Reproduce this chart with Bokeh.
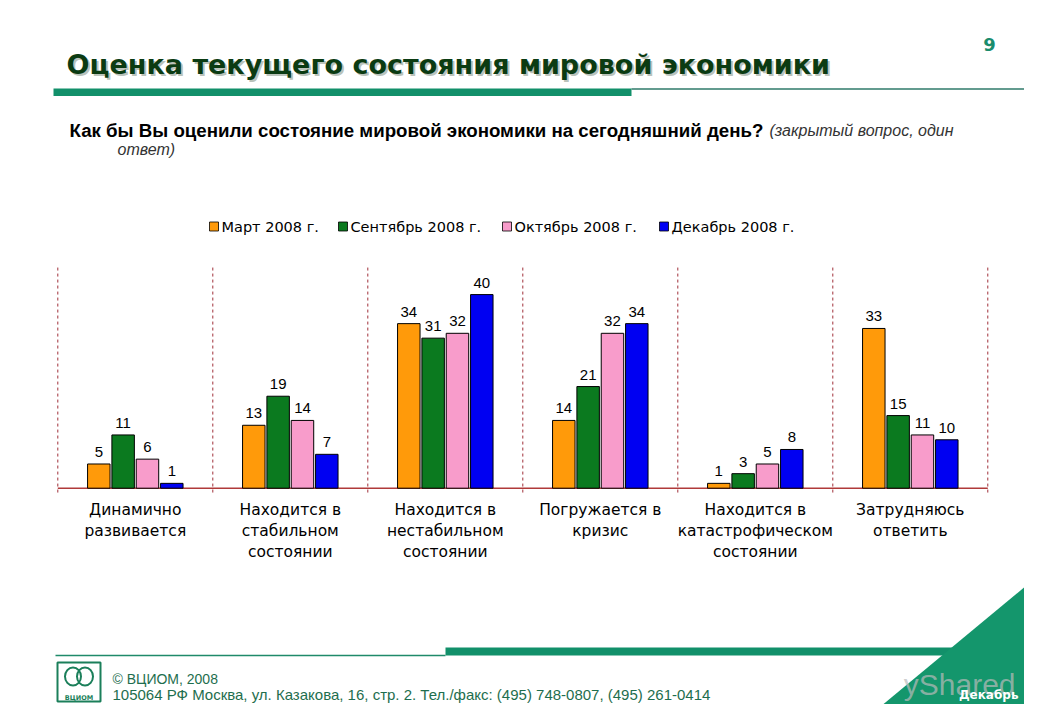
import numpy as np
from bokeh.plotting import figure
from bokeh.models import Range1d, ColumnDataSource
from bokeh.core.properties import value
from bokeh.embed import file_html
from bokeh.resources import INLINE

# ---------------- data ----------------
categories = [
    "Динамично\nразвивается",
    "Находится в\nстабильном\nсостоянии",
    "Находится в\nнестабильном\nсостоянии",
    "Погружается в\nкризис",
    "Находится в\nкатастрофическом\nсостоянии",
    "Затрудняюсь\nответить",
]
series_names = ["Март 2008 г.", "Сентябрь 2008 г.", "Октябрь 2008 г.", "Декабрь 2008 г."]
mar_2008 = [5, 13, 34, 14, 1, 33]
sep_2008 = [11, 19, 31, 21, 3, 15]
oct_2008 = [6, 14, 32, 32, 5, 11]
dec_2008 = [1, 7, 40, 34, 8, 10]
series_values = [mar_2008, sep_2008, oct_2008, dec_2008]
series_colors = ["#FF9A0A", "#0B7A1F", "#F89CCB", "#0000F2"]

title_text = "Оценка текущего состояния мировой экономики"
question_bold = "Как бы Вы оценили состояние мировой экономики на сегодняшний день?"
question_italic_1 = "(закрытый вопрос, один"
question_italic_2 = "ответ)"
page_number = "9"
footer_1 = "© ВЦИОМ, 2008"
footer_2 = "105064  РФ Москва, ул. Казакова, 16, стр. 2.  Тел./факс: (495) 748-0807,  (495) 261-0414"

# ---------------- figure ----------------
W, H = 1024, 704
p = figure(width=W, height=H,
           x_range=Range1d(-0.3697, 6.2368), y_range=Range1d(-44.69, 100.76),
           output_backend="svg", toolbar_location=None,
           x_axis_location=None, y_axis_location=None,
           min_border=0, outline_line_color=None,
           background_fill_color="white", border_fill_color="white")
p.xgrid.grid_line_color = None
p.ygrid.grid_line_color = None
# page-pixel ranges for decorations
p.extra_x_ranges = {"px": Range1d(0, 1024)}
p.extra_y_ranges = {"py": Range1d(704, 0)}
PX = dict(x_range_name="px", y_range_name="py")

# ---------------- header ----------------
p.quad(left=[53], right=[631], top=[88], bottom=[95.5], fill_color="#12906A", line_color=None, **PX)
p.segment(x0=[631], x1=[1024], y0=[88.5], y1=[88.5], line_color="#2F7A6A", line_width=1.5, **PX)

p.text(x=[68], y=[65.5], text=[title_text], text_font=value("DejaVu Sans"), text_font_style="bold",
       text_font_size="27px", text_color="#7F8F80", text_alpha=0.55, text_baseline="alphabetic", **PX)
p.text(x=[66], y=[63.5], text=[title_text], text_font=value("DejaVu Sans"), text_font_style="bold",
       text_font_size="27px", text_color="#0B3B12", text_baseline="alphabetic", **PX)
p.text(x=[989], y=[44], text=[page_number], text_font=value("DejaVu Sans"), text_font_style="bold",
       text_font_size="18px", text_color="#1A8C6C", text_align="center", text_baseline="alphabetic", **PX)

p.text(x=[69], y=[130], text=[question_bold], text_font=value("Liberation Sans"), text_font_style="bold",
       text_font_size="18.7px", text_color="black", text_baseline="alphabetic", **PX)
p.text(x=[769], y=[130], text=[question_italic_1], text_font=value("Liberation Sans"), text_font_style="italic",
       text_font_size="16px", text_color="#333333", text_baseline="alphabetic", **PX)
p.text(x=[117], y=[149], text=[question_italic_2], text_font=value("Liberation Sans"), text_font_style="italic",
       text_font_size="16px", text_color="#333333", text_baseline="alphabetic", **PX)

# ---------------- legend ----------------
legend_text_x = [221, 350, 514, 671]
legend_y = 226
p.rect(x=[t - 7.5 for t in legend_text_x], y=[legend_y] * 4, width=9, height=9,
       fill_color=series_colors, line_color="black", line_width=0.8, **PX)
p.text(x=legend_text_x, y=[legend_y] * 4, text=series_names, text_font=value("DejaVu Sans"),
       text_font_size="14.5px", text_color="black", text_baseline="middle", **PX)

# ---------------- chart ----------------
n = len(categories)
centers = np.arange(n) + 0.5
pitch = 0.157
bar_w = 0.145

# separators and baseline
for b in range(n + 1):
    p.segment(x0=[b], x1=[b], y0=[-0.9], y1=[45.8], line_color="#A0303A", line_width=1, line_dash="3 3")
p.segment(x0=[0], x1=[n], y0=[0], y1=[0], line_color="#B03A3A", line_width=1.5)

for k, (vals, col) in enumerate(zip(series_values, series_colors)):
    xs = centers + (k - 1.5) * pitch
    src = ColumnDataSource(dict(x=xs, top=vals, lab=[str(v) for v in vals]))
    p.vbar(x="x", top="top", bottom=0, width=bar_w, fill_color=col, line_color="black",
           line_width=1, source=src)
    p.text(x="x", y="top", text="lab", source=src, text_align="center", text_baseline="alphabetic",
           y_offset=-12, text_font=value("Liberation Sans"), text_font_size="15px", text_color="black")

p.text(x=centers, y=[500] * n, text=categories, text_align="center", text_baseline="top",
       text_font=value("DejaVu Sans"), text_font_size="15.5px", text_color="black",
       text_line_height=1.18, y_range_name="py")

# ---------------- footer ----------------
p.segment(x0=[55], x1=[445], y0=[655], y1=[655], line_color="#1F8A6A", line_width=1.5, **PX)
p.quad(left=[445], right=[995], top=[647], bottom=[655], fill_color="#12906A", line_color=None, **PX)
p.patch(x=[1032, 868, 1032], y=[580, 716, 716], fill_color="#14966C", line_color=None, **PX)

# logo
p.quad(left=[57], right=[100], top=[662], bottom=[701], fill_color="white", line_color="#1B7F5A",
       line_width=2, **PX)
p.ellipse(x=[72.5, 84.5], y=[676, 676], width=[16, 16], height=[18, 18], fill_color=None,
          line_color="#1B7F5A", line_width=2, **PX)
p.text(x=[78.5], y=[697], text=["ВЦИОМ"], text_font=value("DejaVu Sans"), text_font_style="bold",
       text_font_size="6.5px", text_color="#1B7F5A", text_align="center", text_baseline="alphabetic", **PX)

p.text(x=[112], y=[678], text=[footer_1], text_font=value("Liberation Sans"), text_font_size="14px",
       text_color="#1E6E4E", text_baseline="alphabetic", **PX)
p.text(x=[112], y=[694], text=[footer_2], text_font=value("Liberation Sans"), text_font_size="15px",
       text_color="#1E6E4E", text_baseline="alphabetic", **PX)

p.text(x=[1015], y=[684], text=["yShared"], text_font=value("Liberation Sans"), text_font_size="30px",
       text_color="#BBBBBB", text_alpha=0.7, text_align="right", text_baseline="alphabetic", **PX)
p.text(x=[1018], y=[694], text=["Декабрь"], text_font=value("DejaVu Sans"), text_font_style="bold",
       text_font_size="12px", text_color="white", text_align="right", text_baseline="alphabetic", **PX)

open("out.html", "w").write(file_html(p, INLINE))
